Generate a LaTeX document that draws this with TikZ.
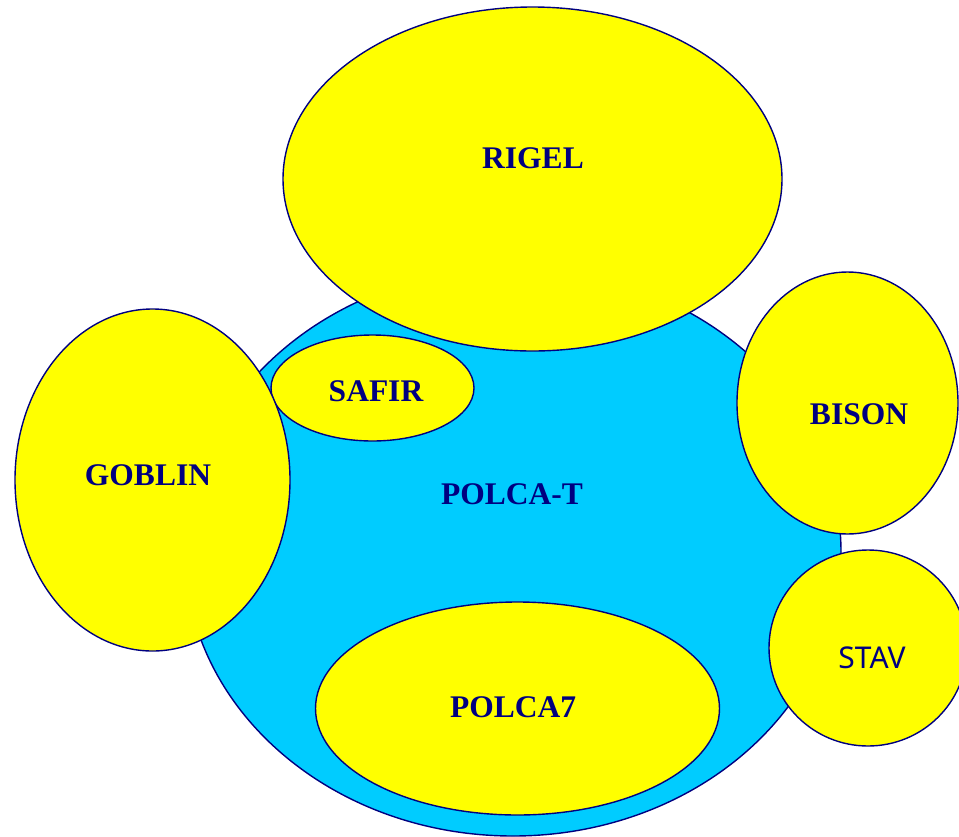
\documentclass[tikz,border=0pt]{standalone}
\usepackage{fontspec}
\setmainfont{Liberation Serif}
\newfontfamily\stavfont{Noto Sans}
\usetikzlibrary{shapes.geometric}
\definecolor{navyline}{HTML}{000080}
\definecolor{skyfill}{HTML}{00CCFF}
\definecolor{yelfill}{HTML}{FFFF00}
\tikzset{
  blob/.style={ellipse, draw=navyline, line width=1.4pt, inner sep=0pt, outer sep=0pt},
  yblob/.style={blob, fill=yelfill},
  lbl/.style={inner sep=0pt, text=navyline, font=\fontsize{31.5}{33}\selectfont\bfseries},
}
\begin{document}
\begin{tikzpicture}[x=1pt,y=-1pt]
\useasboundingbox (0,0) rectangle (959,836);
\begin{scope}
\clip (0,0) rectangle (959,836);
\node[blob, fill=skyfill, minimum width=656pt, minimum height=568pt] (polcat) at (513,552) {};
\node[yblob, minimum width=203pt, minimum height=106pt] (safir) at (372.5,388) {};
\node[yblob, minimum width=404pt, minimum height=213pt] (polca7) at (517.5,708.5) {};
\node[yblob, minimum width=499pt, minimum height=344pt] (rigel) at (532.5,179) {};
\node[yblob, minimum width=275pt, minimum height=342pt] (goblin) at (152.5,480) {};
\node[yblob, minimum width=221pt, minimum height=262pt] (bison) at (847.5,403) {};
\node[yblob, minimum width=198pt, minimum height=196pt] (stav) at (868,648) {};
\end{scope}
\node[lbl] (trigel) at (533,158) {RIGEL};
\node[lbl] (tsafir) at (376,391) {SAFIR};
\node[lbl] (tgoblin) at (148,475.5) {GOBLIN};
\node[lbl] (tbison) at (859,414.5) {BISON};
\node[lbl] (tpolcat) at (512,494) {POLCA-T};
\node[lbl] (tpolca7) at (513,707.5) {POLCA7};
\node[inner sep=0pt, text=navyline, font=\stavfont\fontsize{30}{32}\selectfont] (tstav) at (872,657.5) {STAV};
\end{tikzpicture}
\end{document}
